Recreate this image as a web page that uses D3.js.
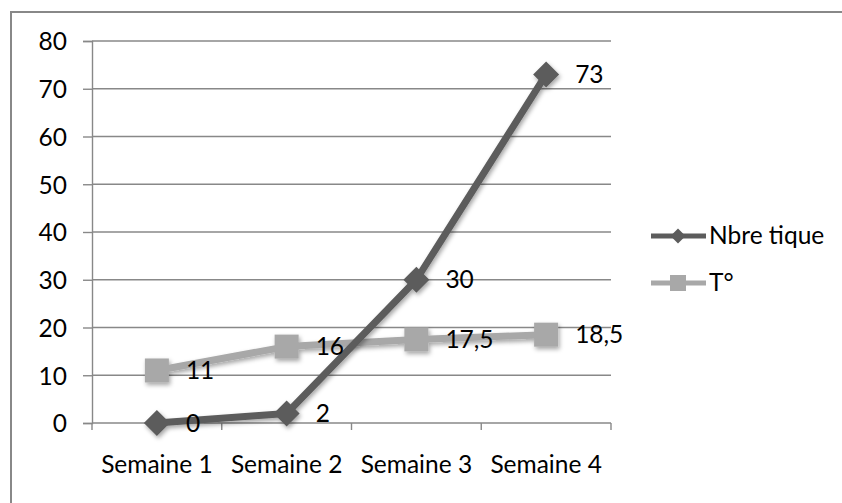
<!DOCTYPE html>
<html>
<head>
<meta charset="utf-8">
<script src="https://cdn.jsdelivr.net/npm/d3@7/dist/d3.min.js"></script>
<style>
  html, body { margin: 0; padding: 0; background: #ffffff; }
  svg text { font-family: Lato, "Open Sans", sans-serif; fill: #000; }
</style>
</head>
<body>
<svg id="chart" width="842" height="503"></svg>
<script>
// Weekly data: tick count and temperature
const categories = ["Semaine 1", "Semaine 2", "Semaine 3", "Semaine 4"];
const tickCounts = [0, 2, 30, 73];
const temperatures = [11, 16, 17.5, 18.5];
const tickLabels = [0, 10, 20, 30, 40, 50, 60, 70, 80];
const seriesNames = ["Nbre tique", "T°"];

const dark = "#5c5c5c";
const light = "#a8a8a8";
const gridColor = "#888888";
const fontSize = 24.5;

const svg = d3.select("#chart");

// soft drop shadow for lines and markers
const defs = svg.append("defs");
const f = defs.append("filter").attr("id", "shadow")
  .attr("x", "-20%").attr("y", "-20%").attr("width", "140%").attr("height", "140%");
f.append("feDropShadow").attr("dx", 1.5).attr("dy", 2.5).attr("stdDeviation", 2)
  .attr("flood-color", "#000").attr("flood-opacity", 0.35);

// chart frame
svg.append("rect").attr("x", 11).attr("y", 12).attr("width", 900).attr("height", 600)
  .attr("fill", "none").attr("stroke", gridColor).attr("stroke-width", 2);

const x = d3.scaleBand().domain(categories).range([92, 611]);
const y = d3.scaleLinear().domain([0, 80]).range([423, 41]);
const cx = d => x(d) + x.bandwidth() / 2;

// horizontal gridlines with y ticks
const yAxis = d3.axisLeft(y).tickValues(tickLabels).tickSize(9).tickPadding(16)
  .tickFormat(d3.format("d"));
const gy = svg.append("g").attr("transform", "translate(92,0)").call(yAxis);
gy.select(".domain").attr("stroke", gridColor).attr("stroke-width", 1.4);
gy.selectAll(".tick line").attr("stroke", gridColor).attr("stroke-width", 1.4);
gy.selectAll(".tick text").attr("font-size", fontSize).attr("font-family", "Lato")
  .attr("dy", "0.36em").attr("fill", "#000");
svg.append("g").selectAll("line").data(tickLabels.filter(d => d > 0)).join("line")
  .attr("x1", 92).attr("x2", 611)
  .attr("y1", d => y(d)).attr("y2", d => y(d))
  .attr("stroke", gridColor).attr("stroke-width", 1.4);

// category axis with ticks between categories
const gx = svg.append("g").attr("transform", "translate(0,423)");
gx.append("line").attr("x1", 92).attr("x2", 611).attr("stroke", gridColor).attr("stroke-width", 1.4);
const bounds = categories.map(c => x(c)).concat([x(categories[categories.length - 1]) + x.bandwidth()]);
gx.selectAll("line.tk").data(bounds).join("line").attr("class", "tk")
  .attr("x1", d => d).attr("x2", d => d).attr("y1", 0).attr("y2", 7)
  .attr("stroke", gridColor).attr("stroke-width", 1.4);
gx.selectAll("text").data(categories).join("text")
  .attr("x", d => cx(d)).attr("y", 50).attr("text-anchor", "middle")
  .attr("font-size", fontSize).text(d => d);

const line = d3.line().x((d, i) => cx(categories[i])).y(d => y(d));

// temperature series
const gT = svg.append("g").attr("filter", "url(#shadow)");
gT.append("path").datum(temperatures).attr("d", line)
  .attr("fill", "none").attr("stroke", light).attr("stroke-width", 7).attr("stroke-linejoin", "round");
gT.selectAll("rect").data(temperatures).join("rect")
  .attr("x", (d, i) => cx(categories[i]) - 12).attr("y", d => y(d) - 12)
  .attr("width", 24).attr("height", 24).attr("fill", light);

// tick count series
const gN = svg.append("g").attr("filter", "url(#shadow)");
gN.append("path").datum(tickCounts).attr("d", line)
  .attr("fill", "none").attr("stroke", dark).attr("stroke-width", 7).attr("stroke-linejoin", "round");
gN.selectAll("path.m").data(tickCounts).join("path").attr("class", "m")
  .attr("transform", (d, i) => `translate(${cx(categories[i])},${y(d)})`)
  .attr("d", "M0,-13L13,0L0,13L-13,0Z").attr("fill", dark);

// value labels
const fmt = v => String(v).replace(".", ",");
function labels(values) {
  svg.append("g").selectAll("text").data(values).join("text")
    .attr("x", (d, i) => cx(categories[i]) + 29).attr("y", d => y(d) + 8.5)
    .attr("font-size", fontSize).text(fmt);
}
labels(temperatures);
labels(tickCounts);

// legend
const legend = svg.append("g");
const items = [
  { name: seriesNames[0], color: dark, yy: 236, marker: "diamond" },
  { name: seriesNames[1], color: light, yy: 283, marker: "square" }
];
items.forEach(it => {
  const g = legend.append("g");
  g.append("line").attr("x1", 651).attr("x2", 706).attr("y1", it.yy).attr("y2", it.yy)
    .attr("stroke", it.color).attr("stroke-width", 5);
  if (it.marker === "diamond") {
    g.append("path").attr("transform", `translate(678,${it.yy})`)
      .attr("d", "M0,-7.5L7.5,0L0,7.5L-7.5,0Z").attr("fill", it.color);
  } else {
    g.append("rect").attr("x", 670).attr("y", it.yy - 8).attr("width", 16).attr("height", 16)
      .attr("fill", it.color);
  }
  g.append("text").attr("x", 709).attr("y", it.yy + 8).attr("font-size", fontSize).text(it.name);
});
</script>
</body>
</html>
